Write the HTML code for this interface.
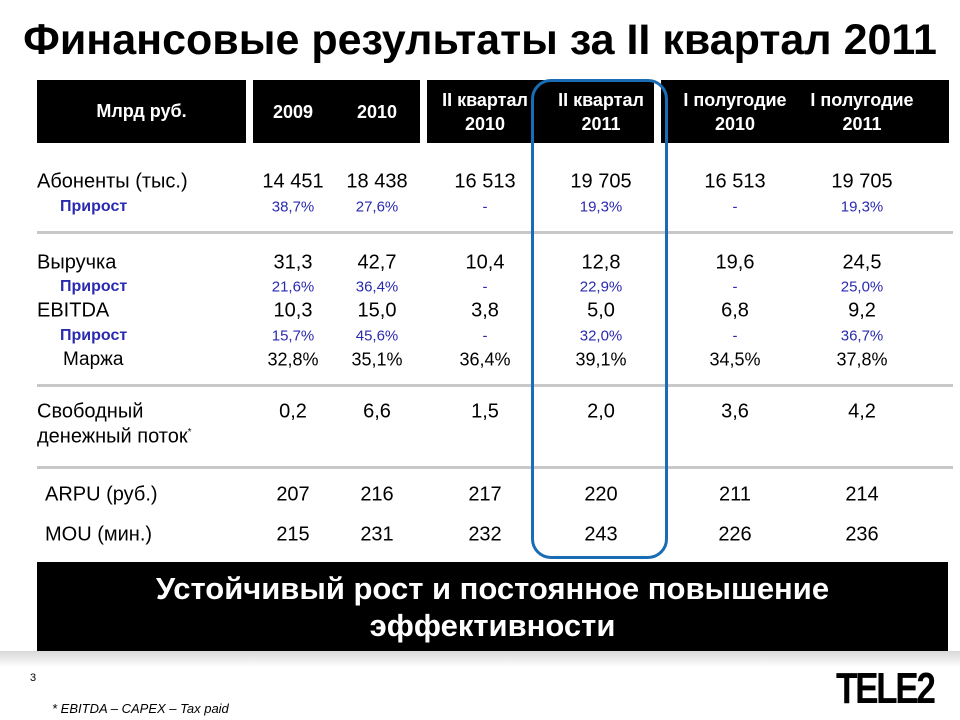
<!DOCTYPE html>
<html><head><meta charset="utf-8"><style>
body{margin:0;width:960px;height:720px;background:#fff;position:relative;overflow:hidden;font-family:"Liberation Sans","Noto Sans CJK SC",sans-serif}
.a{position:absolute}
.h{background:#000;color:#fff;font-weight:bold;font-size:18px}
.c{position:absolute;transform:translate(-50%,-50%);white-space:nowrap;font-size:20px;color:#000}
.g{color:#2a2ab0;font-size:15px}
.l{position:absolute;transform:translateY(-50%);white-space:nowrap;font-size:20px}
.sep{position:absolute;left:37px;width:916px;height:3px;background:#c8c8c8}
</style></head><body>
<div class="a" style="left:0;width:960px;top:16px;text-align:center;font-weight:bold;font-size:43px">Финансовые результаты за II квартал 2011</div>
<div class="a h" style="left:37px;top:80px;width:209px;height:63px;line-height:63px;text-align:center">Млрд руб.</div>
<div class="a h" style="left:253px;top:80px;width:167px;height:63px"></div>
<div class="a h" style="left:427px;top:80px;width:227px;height:63px"></div>
<div class="a h" style="left:661px;top:80px;width:288px;height:63px"></div>
<div id="cells"></div>
<div class="sep" style="top:231px"></div>
<div class="sep" style="top:384px"></div>
<div class="sep" style="top:466px"></div>
<div class="a" style="left:531px;top:79px;width:131px;height:474px;border:3px solid #1a6cb4;border-radius:20px"></div>
<div class="a" style="left:37px;top:562px;width:911px;height:89px;background:#000;color:#fff;font-weight:bold;font-size:31px;text-align:center;line-height:37px;padding-top:8px;box-sizing:border-box">Устойчивый рост и постоянное повышение<br>эффективности</div>
<div class="a" style="left:0;top:651px;width:960px;height:16px;background:linear-gradient(#d8d8d8,#fff)"></div>
<div class="a" style="left:30px;top:672px;font-size:11px">3</div>
<div class="a" style="left:52px;top:701px;font-size:13px;font-style:italic">* EBITDA – CAPEX – Tax paid</div>
<div class="a" style="left:836px;top:664px;font-size:44px;font-weight:bold;letter-spacing:-3px;transform:scaleX(0.8);transform-origin:left;">TELE2</div>
<script>
const cols=[293,377,485,601,735,862];
const headers=["2009","2010","II квартал<br>2010","II квартал<br>2011","I полугодие<br>2010","I полугодие<br>2011"];
const rows=[
["Абоненты (тыс.)",182,false,["14 451","18 438","16 513","19 705","16 513","19 705"],37],
["Прирост",207,true,["38,7%","27,6%","-","19,3%","-","19,3%"],60],
["Выручка",263,false,["31,3","42,7","10,4","12,8","19,6","24,5"],37],
["Прирост",287,true,["21,6%","36,4%","-","22,9%","-","25,0%"],60],
["EBITDA",311,false,["10,3","15,0","3,8","5,0","6,8","9,2"],37],
["Прирост",336,true,["15,7%","45,6%","-","32,0%","-","36,7%"],60],
["Маржа",360,false,["32,8%","35,1%","36,4%","39,1%","34,5%","37,8%"],63],
["Свободный",412,false,["0,2","6,6","1,5","2,0","3,6","4,2"],37],
["ARPU (руб.)",495,false,["207","216","217","220","211","214"],45],
["MOU (мин.)",535,false,["215","231","232","243","226","236"],45]];
const box=document.getElementById('cells');
headers.forEach((t,i)=>{const d=document.createElement('div');d.className='c';


d.style.cssText=`left:${cols[i]}px;top:112px;color:#fff;font-weight:bold;font-size:18px;text-align:center;line-height:24px`;d.innerHTML=t;box.appendChild(d);});
rows.forEach(r=>{const l=document.createElement('div');l.className='l'+(r[2]?' g':'');


l.style.left=r[4]+'px';l.style.top=r[1]+'px';if(r[2]){l.style.fontWeight='bold';l.style.fontSize='16px';}
if(r[0]==='Маржа')l.style.fontSize='19px';
l.textContent=r[0];box.appendChild(l);
r[3].forEach((v,i)=>{const d=document.createElement('div');d.className='c'+(r[2]?' g':'');


d.style.left=cols[i]+'px';d.style.top=r[1]+'px';if(r[0]==='Маржа')d.style.fontSize='18px';d.textContent=v;box.appendChild(d);});});
const f=document.createElement('div');f.className='l';


f.style.left='37px';f.style.top='437px';f.innerHTML='денежный поток<sup style="font-size:10px">*</sup>';box.appendChild(f);
</script>
</body></html>
